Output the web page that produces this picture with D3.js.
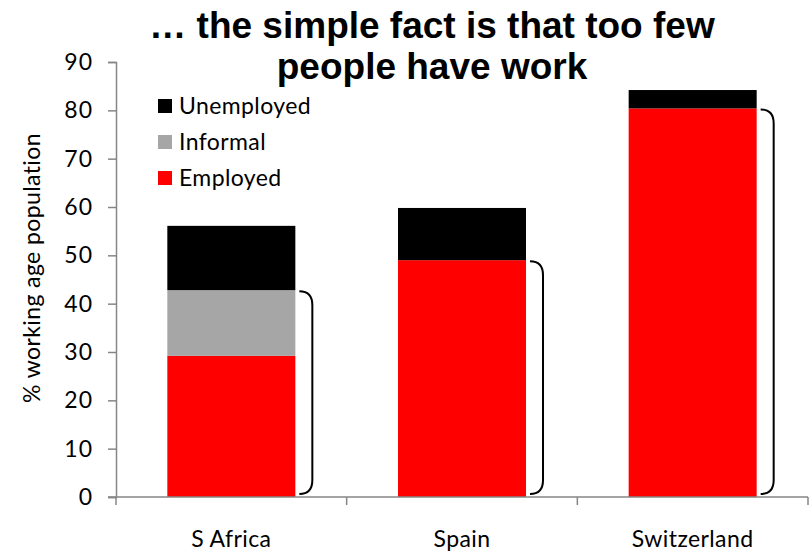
<!DOCTYPE html>
<html><head><meta charset="utf-8">
<script src="https://cdn.jsdelivr.net/npm/d3@7"></script>
<style>
body{margin:0;background:#fff;}
svg{display:block;}
</style></head>
<body>
<svg id="c" width="809" height="551"></svg>
<script>
const categories = ["S Africa", "Spain", "Switzerland"];
const employed = [29.2, 49.0, 80.4];
const informal = [13.6, 0, 0];
const unemployed = [13.3, 10.8, 3.8];
const yTicks = [0, 10, 20, 30, 40, 50, 60, 70, 80, 90];
const seriesNames = ["Employed", "Informal", "Unemployed"];
const seriesColors = ["#ff0000", "#a6a6a6", "#000000"];
const legendOrder = ["Unemployed", "Informal", "Employed"];
const titleLines = ["… the simple fact is that too few", "people have work"];
const yLabel = "% working age population";

(function () {
const svg = d3.select("#c");
const font = "Lato, 'Open Sans', sans-serif";
const fs = 23;
const mLeft = 116, mRight = 808, mTop = 62, mBottom = 497;

const x = d3.scaleBand().domain(categories).range([mLeft, mRight]).paddingInner(0.445).paddingOuter(0.2225);
const y = d3.scaleLinear().domain([0, 90]).range([mBottom, mTop]);

const rows = categories.map((c, i) => ({cat: c, Employed: employed[i], Informal: informal[i], Unemployed: unemployed[i]}));
const stack = d3.stack().keys(seriesNames)(rows);

// bars
svg.append("g").selectAll("g").data(stack).join("g")
  .attr("fill", (d, i) => seriesColors[i])
  .selectAll("rect").data(d => d).join("rect")
  .attr("x", d => x(d.data.cat))
  .attr("width", x.bandwidth())
  .attr("y", d => y(d[1]))
  .attr("height", d => Math.max(0, y(d[0]) - y(d[1])));

// brackets: employed + informal
const bw = 13, r = 14;
svg.append("g").selectAll("path").data(rows).join("path")
  .attr("fill", "none").attr("stroke", "#000").attr("stroke-width", 2)
  .attr("d", d => {
    const x0 = x(d.cat) + x.bandwidth() + 4;
    const yt = y(d.Employed + d.Informal) + 1;
    const yb = y(0) - 3;
    const x1 = x0 + bw;
    return `M${x0},${yt} Q${x1},${yt} ${x1},${yt + r} L${x1},${yb - r} Q${x1},${yb} ${x0},${yb}`;
  });

// y axis
const yAxis = svg.append("g").attr("transform", `translate(${mLeft},0)`)
  .call(d3.axisLeft(y).tickValues(yTicks).tickSize(8).tickPadding(15));
yAxis.select(".domain").attr("stroke", "#868686").attr("stroke-width", 1.5);
yAxis.selectAll(".tick line").attr("stroke", "#868686").attr("stroke-width", 1.5);
yAxis.selectAll("text").attr("font-family", font).attr("font-size", fs).attr("fill", "#000")
  .attr("letter-spacing", 1);

// x axis
const xAxisG = svg.append("g").attr("transform", `translate(0,${mBottom})`);
xAxisG.append("line").attr("x1", mLeft - 8).attr("x2", mRight).attr("y1", 0).attr("y2", 0)
  .attr("stroke", "#868686").attr("stroke-width", 1.5);
const bounds = [mLeft].concat(categories.map(c => x(c) + x.bandwidth() + x.step() * x.paddingInner() / 2));
bounds[bounds.length - 1] = mRight;
xAxisG.selectAll("line.t").data(bounds).join("line").attr("class", "t")
  .attr("x1", d => d).attr("x2", d => d).attr("y1", 0).attr("y2", 8)
  .attr("stroke", "#868686").attr("stroke-width", 1.5);
xAxisG.selectAll("text").data(categories).join("text")
  .attr("x", d => x(d) + x.bandwidth() / 2).attr("y", 50)
  .attr("text-anchor", "middle").attr("font-family", font).attr("font-size", fs)
  .attr("letter-spacing", 0.4)
  .text(d => d);

// y label
svg.append("text").attr("transform", "translate(40,268) rotate(-90)")
  .attr("text-anchor", "middle").attr("font-family", font).attr("font-size", fs)
  .attr("letter-spacing", 0.4)
  .text(yLabel);

// title
svg.append("g").selectAll("text").data(titleLines).join("text")
  .attr("x", 432).attr("y", (d, i) => 38 + i * 41)
  .attr("text-anchor", "middle")
  .attr("font-family", "'Liberation Sans', Arial, sans-serif")
  .attr("font-weight", "bold").attr("font-size", 37)
  .text(d => d);

// legend
const lg = svg.append("g").selectAll("g").data(legendOrder).join("g")
  .attr("transform", (d, i) => `translate(158,${99 + i * 36})`);
lg.append("rect").attr("width", 14).attr("height", 14)
  .attr("fill", d => seriesColors[seriesNames.indexOf(d)]);
lg.append("text").attr("x", 21).attr("y", 15)
  .attr("font-family", font).attr("font-size", fs).attr("letter-spacing", 0.4).text(d => d);
})();
</script>
</body></html>
